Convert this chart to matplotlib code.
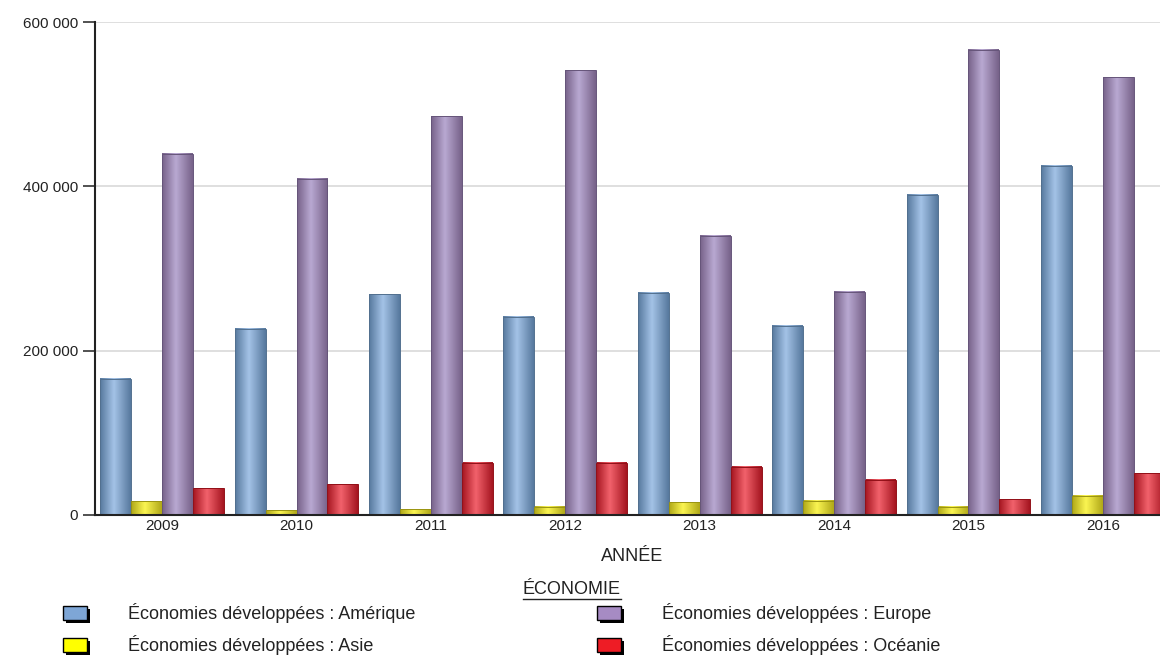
import matplotlib.pyplot as plt
import numpy as np
from matplotlib.colors import LinearSegmentedColormap
from matplotlib.patches import Rectangle
from matplotlib.lines import Line2D
from matplotlib.ticker import FuncFormatter

plt.rcParams['font.family'] = ['Liberation Sans', 'DejaVu Sans']

# Données par année
annees = ['2009', '2010', '2011', '2012', '2013', '2014', '2015', '2016']
amerique = [166000, 226500, 268500, 241500, 270500, 230500, 389500, 425000]
asie = [17000, 5800, 7300, 10200, 15500, 17500, 10000, 23600]
europe = [439500, 409500, 485000, 541500, 340000, 271500, 566500, 533000]
oceanie = [32800, 37400, 63500, 63500, 58500, 43000, 19200, 51000]

libelles = ['Économies développées : Amérique', 'Économies développées : Asie',
            'Économies développées : Europe', 'Économies développées : Océanie']

# (valeurs, bord, centre, contour, couleur de légende)
series = [
    (amerique, '#57799e', '#a4c3e7', '#52708f', '#7ea6d6'),
    (asie, '#b0a818', '#fbf552', '#9a9412', '#ffff00'),
    (europe, '#776289', '#b9a9d2', '#66557a', '#a68bc3'),
    (oceanie, '#a51520', '#f2626c', '#921018', '#ee1c25'),
]

W, H = 1160, 655
fig = plt.figure(figsize=(W / 100, H / 100), dpi=100)
ax = fig.add_axes([95 / W, 140 / H, 1075 / W, 493 / H])

x = np.arange(len(annees))
w = 0.23
grad = np.linspace(0, 1, 64).reshape(1, -1)

for i, (vals, bord, centre, contour, _) in enumerate(series):
    cmap = LinearSegmentedColormap.from_list('cyl%d' % i,
                                             [(0, bord), (0.45, centre), (1, bord)])
    bars = ax.bar(x + (i - 1.5) * w, vals, width=w, color='none',
                  edgecolor=contour, linewidth=0.7, zorder=3)
    for b in bars:
        ax.imshow(grad, extent=[b.get_x(), b.get_x() + b.get_width(), 0, b.get_height()],
                  aspect='auto', cmap=cmap, interpolation='bicubic', zorder=2.5)

ax.set_xlim(-0.5, len(annees) - 0.5)
ax.set_ylim(0, 600000)
ax.set_yticks([0, 200000, 400000, 600000])
ax.yaxis.set_major_formatter(FuncFormatter(lambda v, p: f'{int(v):,}'.replace(',', ' ')))
ax.set_xticks(x)
ax.set_xticklabels(annees)
ax.tick_params(axis='x', length=0, pad=3, labelsize=11, labelcolor='#222222')
ax.tick_params(axis='y', length=9, width=1.2, pad=3, labelsize=11,
               labelcolor='#222222', color='#333333')
ax.grid(axis='y', color='#d9d9d9', linewidth=1.2, zorder=0)
ax.set_axisbelow(True)
for s in ['top', 'right']:
    ax.spines[s].set_visible(False)
ax.spines['left'].set_color('#222222')
ax.spines['left'].set_linewidth(1.5)
ax.spines['bottom'].set_color('#222222')
ax.spines['bottom'].set_linewidth(1.5)
ax.spines['bottom'].set_zorder(4)

ax.set_xlabel('ANNÉE', fontsize=13, color='#222222', labelpad=11)


def fpos(px, py):
    return px / W, 1 - py / H


# Légende
titre = fig.text(*fpos(572, 589), 'ÉCONOMIE', fontsize=13, color='#222222',
                 ha='center', va='center')
fig.canvas.draw()
bb = titre.get_window_extent()
fig.add_artist(Line2D([bb.x0 / W, bb.x1 / W], [(bb.y0 - 1) / H, (bb.y0 - 1) / H],
                      transform=fig.transFigure, color='#222222', linewidth=1))

positions = [(63, 613), (63, 645), (597, 613), (597, 645)]
for (px, py), lib, serie in zip(positions, libelles, series):
    sw, sh = 24, 14
    ombre = Rectangle(fpos(px + 3, py + sh / 2 + 3), sw / W, sh / H,
                      transform=fig.transFigure, facecolor='black', edgecolor='none')
    carre = Rectangle(fpos(px, py + sh / 2), sw / W, sh / H, transform=fig.transFigure,
                      facecolor=serie[4], edgecolor='black', linewidth=1)
    fig.add_artist(ombre)
    fig.add_artist(carre)
    fig.text(*fpos(px + 65, py), lib, fontsize=13, color='#222222',
             ha='left', va='center')

fig.savefig('out.png', dpi=100)
